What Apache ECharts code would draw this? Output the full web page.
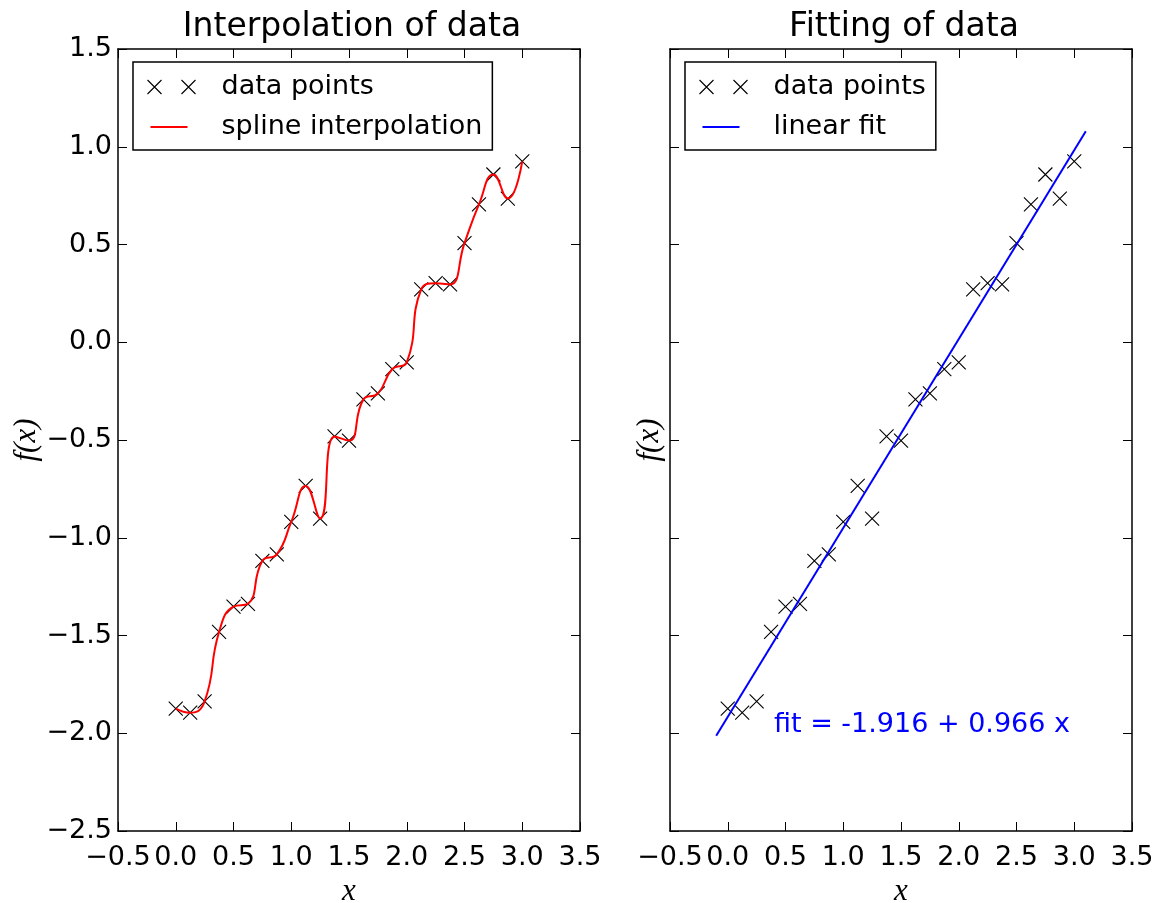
<!DOCTYPE html>
<html><head><meta charset="utf-8">
<script src="https://cdn.jsdelivr.net/npm/echarts@6/dist/echarts.min.js"></script>
<style>html,body{margin:0;padding:0;background:#fff}#c{width:1159px;height:903px}</style>
</head><body><div id="c"></div>
<script>
// ---- data ----
const xData = [0, 0.125, 0.25, 0.375, 0.5, 0.625, 0.75, 0.875, 1.0, 1.125, 1.25, 1.375, 1.5,
               1.625, 1.75, 1.875, 2.0, 2.125, 2.25, 2.375, 2.5, 2.625, 2.75, 2.875, 3.0];
const yData = [-1.874, -1.895, -1.837, -1.482, -1.352, -1.338, -1.118, -1.085, -0.919, -0.735, -0.902, -0.482, -0.503,
               -0.292, -0.262, -0.137, -0.103, 0.270, 0.302, 0.296, 0.507, 0.705, 0.858, 0.735, 0.925];
const fitX = [-0.1, 3.1];
const fitY = [-2.013, 1.079];
const panelTitles = ['Interpolation of data', 'Fitting of data'];
const seriesNames = ['data points', 'spline interpolation', 'linear fit'];
const fitText = 'fit = -1.916 + 0.966 x';
const fitTextAt = [0.4, -2.0];
const xRange = [-0.5, 3.5];
const yRange = [-2.5, 1.5];
const tickStep = 0.5;
const xName = 'x';
const yName = 'f(x)';

// ---- chart ----
const FONT = 'DejaVu Sans';
const pts = xData.map((x, i) => [x, yData[i]]);
const fitPts = fitX.map((x, i) => [x, fitY[i]]);
const fmt = v => (v < 0 ? '\u2212' : '') + Math.abs(v).toFixed(1);

const crossPath = 'path://M0,0L10,10M10,0L0,10';
const legendCrossIcon = 'path://M0,0M71,20M2,3L16,17M16,3L2,17M36,3L50,17M50,3L36,17';
const legendLineIcon = 'path://M0,0M71,20M5,10L42,10';

const grids = [
  {left: 118, top: 49, width: 462, height: 782, outerBoundsMode: 'none', containLabel: false},
  {left: 670, top: 49, width: 462, height: 782, outerBoundsMode: 'none', containLabel: false}
];

function baseAxis(range) {
  return {
    type: 'value', min: range[0], max: range[1], interval: tickStep,
    splitLine: {show: false},
    axisLine: {show: true, onZero: false, lineStyle: {color: '#000', width: 1.5}},
    axisTick: {show: true, inside: true, length: 9, lineStyle: {color: '#000', width: 1}},
    axisLabel: {show: false}
  };
}
const nameStyle = {fontFamily: 'Liberation Serif', fontStyle: 'italic', fontSize: 31, color: '#000'};
const labelStyle = {show: true, fontFamily: FONT, fontSize: 27, color: '#000', formatter: fmt};

const xAxes = [], yAxes = [];
[0, 1].forEach(g => {
  xAxes.push(Object.assign(baseAxis(xRange), {gridIndex: g, position: 'bottom',
    axisLabel: Object.assign({}, labelStyle, {margin: 13}),
    name: xName, nameLocation: 'middle', nameGap: 42, nameTextStyle: nameStyle}));
  xAxes.push(Object.assign(baseAxis(xRange), {gridIndex: g, position: 'top'}));
  yAxes.push(Object.assign(baseAxis(yRange), {gridIndex: g, position: 'left',
    axisLabel: g === 0 ? Object.assign({}, labelStyle, {margin: 6}) : {show: false},
    name: yName, nameLocation: 'middle', nameGap: g === 0 ? 70 : 5, nameRotate: 90, nameTextStyle: nameStyle}));
  yAxes.push(Object.assign(baseAxis(yRange), {gridIndex: g, position: 'right'}));
});

function legendFor(left, names, icons, colors, widths) {
  return {
    left: left, top: 62, orient: 'vertical', selectedMode: false,
    itemWidth: 71, itemHeight: 20, itemGap: 10, padding: [10, 10, 8, 10],
    borderColor: '#000', borderWidth: 1.5, borderRadius: 0, backgroundColor: '#fff',
    textStyle: {fontFamily: FONT, fontSize: 27, color: '#000', lineHeight: 30},
    data: names.map((n, i) => ({name: n, icon: icons[i],
      itemStyle: {color: 'none', borderColor: colors[i], borderWidth: widths[i], opacity: 1}}))
  };
}

const scatterStyle = {color: 'none', borderColor: '#000', borderWidth: 1.1, opacity: 1};

const option = {
  animation: false,
  backgroundColor: '#fff',
  title: panelTitles.map((t, i) => ({
    text: t, left: grids[i].left + grids[i].width / 2 - 2, top: 6, textAlign: 'center',
    textStyle: {fontFamily: FONT, fontSize: 33, fontWeight: 'normal', color: '#000'}
  })),
  grid: grids,
  xAxis: xAxes,
  yAxis: yAxes,
  legend: [
    legendFor(133, [seriesNames[0], seriesNames[1]], [legendCrossIcon, legendLineIcon], ['#000', '#f00'], [1.1, 2]),
    legendFor(685, [seriesNames[0], seriesNames[2]], [legendCrossIcon, legendLineIcon], ['#000', '#00f'], [1.1, 2])
  ],
  series: [
    {name: seriesNames[0], type: 'scatter', xAxisIndex: 0, yAxisIndex: 0, data: pts,
     symbol: crossPath, symbolSize: 14, itemStyle: scatterStyle, z: 2},
    {name: seriesNames[1], type: 'line', xAxisIndex: 0, yAxisIndex: 0, data: pts,
     smooth: 0.5, symbol: 'none', lineStyle: {color: '#f00', width: 2}, itemStyle: {color: '#f00'}, z: 3},
    {name: seriesNames[0], type: 'scatter', xAxisIndex: 2, yAxisIndex: 2, data: pts,
     symbol: crossPath, symbolSize: 14, itemStyle: scatterStyle, z: 2},
    {name: seriesNames[2], type: 'line', xAxisIndex: 2, yAxisIndex: 2, data: fitPts,
     symbol: 'none', lineStyle: {color: '#00f', width: 2}, itemStyle: {color: '#00f'}, z: 3},
    {name: 'annotation', type: 'scatter', xAxisIndex: 2, yAxisIndex: 2, data: [fitTextAt],
     symbolSize: 0, silent: true, itemStyle: {opacity: 1},
     label: {show: true, formatter: fitText, position: 'right', distance: 0, offset: [0, -8],
             fontFamily: FONT, fontSize: 27, color: '#00f', opacity: 1}}
  ]
};
const chart = echarts.init(document.getElementById('c'), null, {renderer: 'canvas'});
chart.setOption(option);
</script>
</body></html>
